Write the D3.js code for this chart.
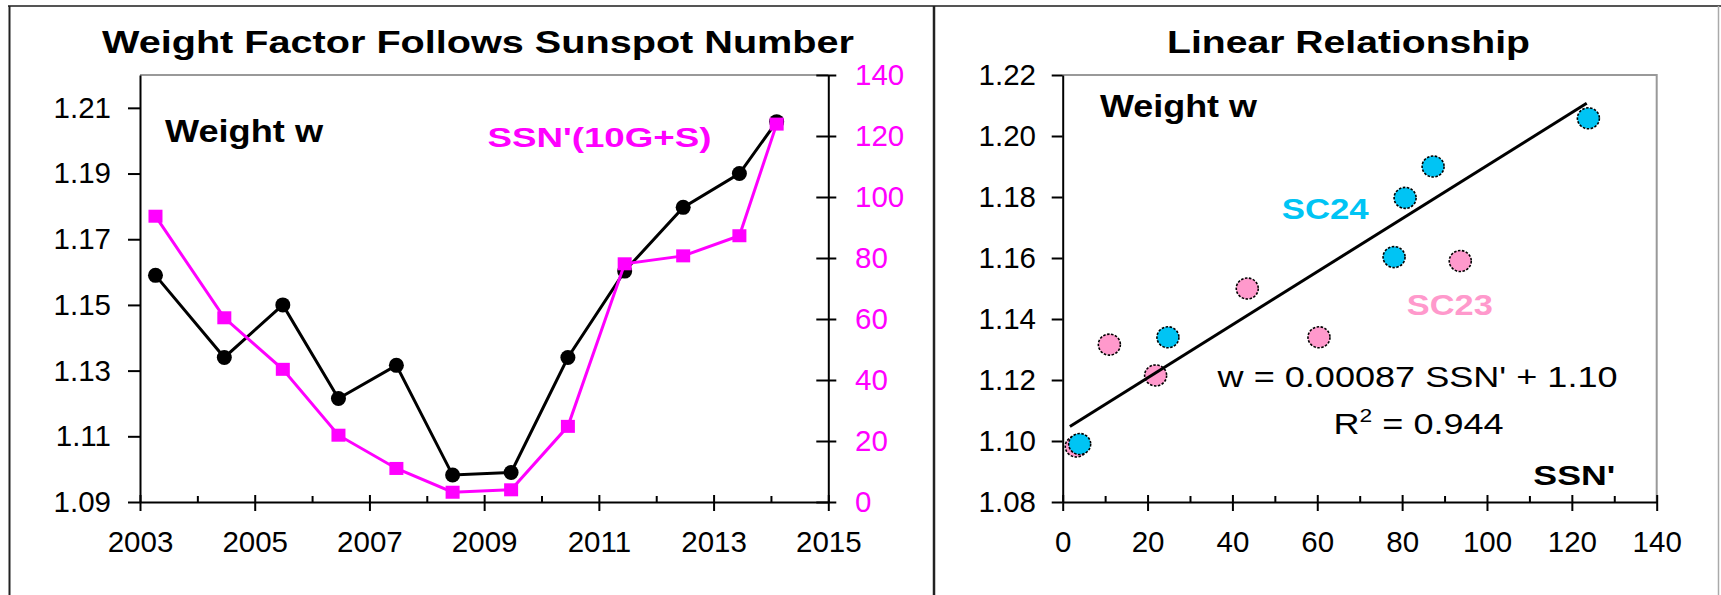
<!DOCTYPE html>
<html><head><meta charset="utf-8">
<script src="https://cdn.jsdelivr.net/npm/d3@7"></script>
<style>
html,body{margin:0;padding:0;background:#fff;}
svg{display:block;}
text{font-family:"Liberation Sans",Arial,sans-serif;}
</style></head><body>
<svg id="chart" width="1721" height="595"></svg>
<script>
// ---------- data ----------
const years  = [2003.27, 2004.47, 2005.49, 2006.46, 2007.47, 2008.45, 2009.47, 2010.46, 2011.45, 2012.47, 2013.45, 2014.10];
const weight = [1.159, 1.134, 1.150, 1.1215, 1.1316, 1.0982, 1.0990, 1.134, 1.1603, 1.1797, 1.190, 1.2058];
const ssn    = [93.7, 60.4, 43.5, 21.9, 11.0, 3.2, 4.0, 24.8, 78.1, 80.7, 87.3, 123.9];
const cycle  = ["SC23","SC23","SC23","SC23","SC23","SC23","SC24","SC24","SC24","SC24","SC24","SC24"];

const yearTicks   = [2003,2004,2005,2006,2007,2008,2009,2010,2011,2012,2013,2014,2015];
const wTicksLeft  = [1.09,1.11,1.13,1.15,1.17,1.19,1.21];
const ssnTicksL   = [0,20,40,60,80,100,120,140];
const wTicksRight = [1.08,1.10,1.12,1.14,1.16,1.18,1.20,1.22];
const ssnTicksR   = [0,10,20,30,40,50,60,70,80,90,100,110,120,130,140];

const fitSlope = 0.00087, fitIntercept = 1.1033, fitRange = [1.7, 123.5];
const fitLabel = "w = 0.00087 SSN' + 1.10";
const r2Value = "0.944";

const titleLeft = "Weight Factor Follows Sunspot Number";
const titleRight = "Linear Relationship";

const cycleColor = {SC23:"#FF99CC", SC24:"#00C4F4"};

// ---------- drawing ----------
const svg = d3.select("#chart");
const F = '"Liberation Sans", Arial, sans-serif';

// frame
svg.append("line").attr("x1",8).attr("x2",1721).attr("y1",6).attr("y2",6).attr("stroke","#555").attr("stroke-width",2);
svg.append("line").attr("x1",9.5).attr("x2",9.5).attr("y1",6).attr("y2",595).attr("stroke","#222").attr("stroke-width",2);
svg.append("line").attr("x1",934).attr("x2",934).attr("y1",6).attr("y2",595).attr("stroke","#222").attr("stroke-width",2.5);
svg.append("line").attr("x1",1718.5).attr("x2",1718.5).attr("y1",6).attr("y2",595).attr("stroke","#aaa").attr("stroke-width",1.5);

function label(txt, x, y, w, size, opts={}) {
  const t = svg.append("text").attr("x",x).attr("y",y).text(txt)
    .attr("font-family",F).attr("font-size",size)
    .attr("font-weight",opts.bold?"bold":"normal")
    .attr("fill",opts.color||"#000");
  if (w) t.attr("textLength",w).attr("lengthAdjust","spacingAndGlyphs");
  return t;
}
function styleAxis(g, color) {
  g.attr("font-family",F).attr("font-size",29.5);
  g.select(".domain").attr("stroke","#000").attr("stroke-width",2);
  g.selectAll(".tick line").attr("stroke","#000").attr("stroke-width",2);
  g.selectAll(".tick text").attr("fill",color||"#000");
}

// ===== Left chart =====
const L = {x0:140, x1:828.3, y0:75, y1:502};
const xL = d3.scaleLinear().domain([2003,2015]).range([L.x0,L.x1]);
const yW = d3.scaleLinear().domain([1.09,1.22]).range([L.y1,L.y0]);
const yS = d3.scaleLinear().domain([0,140]).range([L.y1,L.y0]);

svg.append("line").attr("x1",L.x0).attr("x2",L.x1).attr("y1",L.y0).attr("y2",L.y0).attr("stroke","#999").attr("stroke-width",2);

const gLy = svg.append("g").attr("transform",`translate(${L.x0},0)`)
  .call(d3.axisLeft(yW).tickValues(wTicksLeft).tickFormat(d3.format(".2f")).tickSize(12).tickSizeOuter(0).tickPadding(17));
styleAxis(gLy);

const gLr = svg.append("g").attr("transform",`translate(${L.x1},0)`)
  .call(d3.axisRight(yS).tickValues(ssnTicksL).tickSize(8).tickSizeOuter(0).tickPadding(18.7));
styleAxis(gLr, "#FF00FF");
gLr.selectAll(".tick line").attr("x1",-12).attr("x2",8);

const gLx = svg.append("g").attr("transform",`translate(0,${L.y1})`)
  .call(d3.axisBottom(xL).tickValues(yearTicks).tickFormat(d => d%2 ? d3.format("d")(d) : "").tickSize(9).tickSizeOuter(0).tickPadding(20.2));
styleAxis(gLx);
gLx.selectAll(".tick line").attr("y1", d => d%2 ? -7 : -6).attr("y2", d => d%2 ? 9 : 0);

const idx = d3.range(years.length);
// weight line
svg.append("path").datum(idx)
  .attr("d", d3.line().x(i=>xL(years[i])).y(i=>yW(weight[i])))
  .attr("fill","none").attr("stroke","#000").attr("stroke-width",3);
svg.append("g").selectAll("circle").data(idx).join("circle")
  .attr("cx",i=>xL(years[i])).attr("cy",i=>yW(weight[i])).attr("r",7.5).attr("fill","#000");
// SSN line
svg.append("path").datum(idx)
  .attr("d", d3.line().x(i=>xL(years[i])).y(i=>yS(ssn[i])))
  .attr("fill","none").attr("stroke","#FF00FF").attr("stroke-width",3);
svg.append("g").selectAll("rect").data(idx).join("rect")
  .attr("x",i=>xL(years[i])-7).attr("y",i=>yS(ssn[i])-6.5).attr("width",14).attr("height",13).attr("fill","#FF00FF");

label(titleLeft, 102, 53.3, 752, 31, {bold:true});
label("Weight w", 165, 141.7, 158, 32, {bold:true});
label("SSN'(10G+S)", 487.5, 146.7, 224, 28, {bold:true, color:"#FF00FF"});

// ===== Right chart =====
const R = {x0:1062.7, x1:1656.7, y0:75, y1:502};
const xR = d3.scaleLinear().domain([0,140]).range([R.x0,R.x1]);
const yR = d3.scaleLinear().domain([1.08,1.22]).range([R.y1,R.y0]);

svg.append("path").attr("d",`M${R.x0},${R.y0}H${R.x1}V${R.y1}`).attr("fill","none").attr("stroke","#999").attr("stroke-width",2);

const gRy = svg.append("g").attr("transform",`translate(${R.x0},0)`)
  .call(d3.axisLeft(yR).tickValues(wTicksRight).tickFormat(d3.format(".2f")).tickSize(11).tickSizeOuter(0).tickPadding(15.7));
styleAxis(gRy);

const gRx = svg.append("g").attr("transform",`translate(0,${R.y1})`)
  .call(d3.axisBottom(xR).tickValues(ssnTicksR).tickFormat(d => d%20===0 ? d3.format("d")(d) : "").tickSize(9).tickSizeOuter(0).tickPadding(20.2));
styleAxis(gRx);
gRx.selectAll(".tick line").attr("y1", d => d%20===0 ? -7 : -6).attr("y2", d => d%20===0 ? 9 : 0);

// points: SC23 first, then SC24 on top
const order = idx.slice().sort((a,b)=> (cycle[a]==="SC24") - (cycle[b]==="SC24"));
svg.append("g").selectAll("ellipse").data(order).join("ellipse")
  .attr("cx",i=>xR(ssn[i])).attr("cy",i=>yR(weight[i])).attr("rx",11).attr("ry",10.5)
  .attr("fill",i=>cycleColor[cycle[i]]).attr("stroke","#000").attr("stroke-width",1.6)
  .attr("stroke-dasharray","2.5 1.5");

// trend line
svg.append("line")
  .attr("x1",xR(fitRange[0])).attr("y1",yR(fitIntercept+fitSlope*fitRange[0]))
  .attr("x2",xR(fitRange[1])).attr("y2",yR(fitIntercept+fitSlope*fitRange[1]))
  .attr("stroke","#000").attr("stroke-width",3);

label(titleRight, 1167, 53.3, 363, 31, {bold:true});
label("Weight w", 1100, 116.7, 157, 32, {bold:true});
label("SC24", 1281.7, 219.3, 87, 29, {bold:true, color:cycleColor.SC24});
label("SC23", 1406.8, 315, 86, 29, {bold:true, color:cycleColor.SC23});
label(fitLabel, 1217.6, 386.7, 400, 30);
const r2 = svg.append("text").attr("x",1333.6).attr("y",434).attr("font-family",F).attr("font-size",30)
  .attr("textLength",170).attr("lengthAdjust","spacingAndGlyphs");
r2.append("tspan").text("R");
r2.append("tspan").attr("dy",-12).attr("font-size",19).text("2");
r2.append("tspan").attr("dy",12).text(" = " + r2Value);
label("SSN'", 1533.3, 485, 82, 28, {bold:true});
</script>
</body></html>
